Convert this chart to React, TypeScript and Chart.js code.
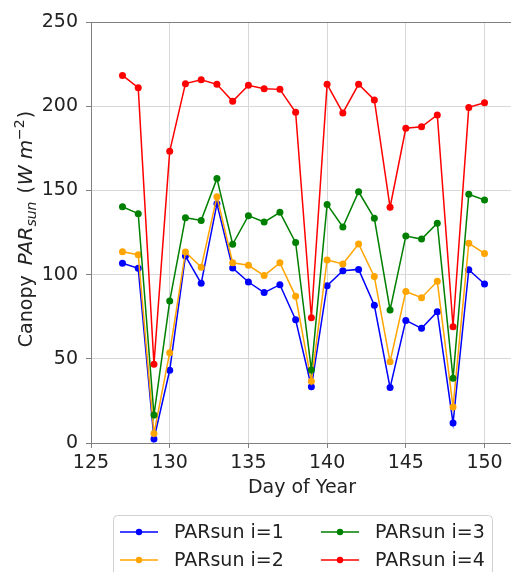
import React, { useEffect, useRef } from "react";
import { Chart, registerables } from "chart.js";

Chart.register(...registerables);

const DAYS = [127, 128, 129, 130, 131, 132, 133, 134, 135, 136, 137, 138, 139, 140, 141, 142, 143, 144, 145, 146, 147, 148, 149, 150];
const PAR_I1 = [106.7, 103.7, 2.4, 43.2, 111, 94.8, 142, 103.9, 95.6, 89.3, 94, 73.2, 33.4, 93.4, 102.3, 103.1, 81.8, 32.9, 72.8, 68.1, 78, 11.9, 102.9, 94.4];
const PAR_I2 = [113.6, 111.8, 5.7, 53.6, 113.4, 104.3, 146.3, 107, 105.5, 99.4, 107, 87.1, 36.6, 108.7, 106.3, 118.2, 98.8, 48.3, 89.9, 86.3, 96, 21.4, 118.6, 112.6];
const PAR_I3 = [140.3, 136.2, 16.6, 84.3, 133.8, 132.2, 157, 118, 135, 131.2, 137, 119, 43.3, 141.7, 128.3, 149.2, 133.4, 79, 122.9, 121.1, 130.5, 38.4, 147.7, 144.3];
const PAR_I4 = [218.3, 211, 46.7, 173.2, 213.4, 215.7, 213, 202.9, 212.4, 210.4, 210, 196.4, 74.4, 213, 196, 213, 203.7, 140, 186.9, 187.8, 194.8, 69, 199.3, 202];
const SERIES_LABELS = ["PARsun i=1", "PARsun i=2", "PARsun i=3", "PARsun i=4"];
const SERIES_COLORS = ["#0000ff", "#ffa500", "#008000", "#ff0000"];
const X_TICKS = [125, 130, 135, 140, 145, 150];
const Y_TICKS = [0, 50, 100, 150, 200, 250];
const X_TITLE = "Day of Year";

const FONT = "'DejaVu Sans', 'Liberation Sans', sans-serif";
const TEXT = "#222222";
const SPINE = "#808080";

const overlay = {
  id: "overlay",
  afterDraw(chart: any) {
    const ctx = chart.ctx as CanvasRenderingContext2D;
    const a = chart.chartArea;
    ctx.save();
    // top spine
    ctx.strokeStyle = SPINE;
    ctx.lineWidth = 1;
    ctx.beginPath();
    ctx.moveTo(a.left, a.top + 0.5);
    ctx.lineTo(a.right, a.top + 0.5);
    ctx.stroke();

    // x title
    ctx.fillStyle = TEXT;
    ctx.font = `19px ${FONT}`;
    ctx.textAlign = "center";
    ctx.textBaseline = "alphabetic";
    ctx.fillText(X_TITLE, 302, 493);

    // y title with sub/superscripts
    const runs = [
      { t: "Canopy ", it: false, s: 19, dy: 0, gap: 4 },
      { t: "PAR", it: true, s: 20, dy: 0, gap: 0 },
      { t: "sun", it: true, s: 14, dy: 4, gap: 8 },
      { t: "(", it: false, s: 19, dy: 0, gap: 1 },
      { t: "W", it: true, s: 20, dy: 0, gap: 6 },
      { t: "m", it: true, s: 20, dy: 0, gap: 0 },
      { t: "\u22122", it: false, s: 14, dy: -8, gap: 1 },
      { t: ")", it: false, s: 19, dy: 0, gap: 0 },
    ];
    let total = 0;
    const widths: number[] = [];
    for (const r of runs) {
      ctx.font = `${r.it ? "italic " : ""}${r.s}px ${FONT}`;
      const w = ctx.measureText(r.t).width + r.gap;
      widths.push(w);
      total += w;
    }
    ctx.translate(32, 229);
    ctx.rotate(-Math.PI / 2);
    ctx.textAlign = "left";
    let x = -total / 2;
    runs.forEach((r, i) => {
      ctx.font = `${r.it ? "italic " : ""}${r.s}px ${FONT}`;
      ctx.fillText(r.t, x, r.dy);
      x += widths[i];
    });
    ctx.setTransform(1, 0, 0, 1, 0, 0);

    // legend
    const bx = 113, by = 515, bw = 379, bh = 70, rr = 4;
    ctx.fillStyle = "#ffffff";
    ctx.strokeStyle = "#d0d0d0";
    ctx.lineWidth = 1;
    ctx.beginPath();
    ctx.moveTo(bx + rr + 0.5, by + 0.5);
    ctx.lineTo(bx + bw - rr + 0.5, by + 0.5);
    ctx.arcTo(bx + bw + 0.5, by + 0.5, bx + bw + 0.5, by + rr + 0.5, rr);
    ctx.lineTo(bx + bw + 0.5, by + bh);
    ctx.lineTo(bx + 0.5, by + bh);
    ctx.lineTo(bx + 0.5, by + rr + 0.5);
    ctx.arcTo(bx + 0.5, by + 0.5, bx + rr + 0.5, by + 0.5, rr);
    ctx.closePath();
    ctx.fill();
    ctx.stroke();
    const cols = [120, 321];
    const rows = [532, 560];
    SERIES_LABELS.forEach((lab, i) => {
      const cx = cols[Math.floor(i / 2)];
      const cy = rows[i % 2];
      ctx.strokeStyle = SERIES_COLORS[i];
      ctx.fillStyle = SERIES_COLORS[i];
      ctx.lineWidth = 1.5;
      ctx.beginPath();
      ctx.moveTo(cx, cy);
      ctx.lineTo(cx + 38, cy);
      ctx.stroke();
      ctx.beginPath();
      ctx.arc(cx + 19, cy, 3.2, 0, Math.PI * 2);
      ctx.fill();
      ctx.fillStyle = TEXT;
      ctx.font = `19px ${FONT}`;
      ctx.textAlign = "left";
      ctx.textBaseline = "middle";
      ctx.fillText(lab, cx + 54, cy + 1);
    });
    ctx.restore();
  },
};

export default function App() {
  const ref = useRef<HTMLCanvasElement | null>(null);
  useEffect(() => {
    document.body.style.margin = "0";
    document.body.style.overflow = "hidden";
    const series = [PAR_I1, PAR_I2, PAR_I3, PAR_I4];
    const chart = new Chart(ref.current as HTMLCanvasElement, {
      type: "line",
      data: {
        datasets: series.map((vals, i) => ({
          label: SERIES_LABELS[i],
          data: DAYS.map((d, j) => ({ x: d, y: vals[j] })),
          borderColor: SERIES_COLORS[i],
          backgroundColor: SERIES_COLORS[i],
          borderWidth: 1.5,
          pointRadius: 3.5,
          pointBorderWidth: 0,
          tension: 0,
          order: 4 - i,
        })),
      },
      options: {
        responsive: false,
        animation: false,
        layout: { padding: { top: 22, right: 60, left: 0, bottom: 0 } },
        plugins: { legend: { display: false }, tooltip: { enabled: false } },
        scales: {
          x: {
            type: "linear",
            min: 125,
            max: 152,
            afterBuildTicks: (s: any) => {
              s.ticks = X_TICKS.map((v) => ({ value: v }));
            },
            afterFit: (s: any) => {
              s.height = 129;
            },
            ticks: { color: TEXT, font: { family: FONT, size: 19 }, padding: 4, maxRotation: 0 },
            grid: { color: "#d8d8d8", lineWidth: 1, tickColor: SPINE, tickLength: 5, drawTicks: true },
            border: { display: true, color: SPINE, width: 1 },
          },
          y: {
            type: "linear",
            min: 0,
            max: 250,
            afterBuildTicks: (s: any) => {
              s.ticks = Y_TICKS.map((v) => ({ value: v }));
            },
            afterFit: (s: any) => {
              s.width = 91;
            },
            ticks: { color: TEXT, font: { family: FONT, size: 19 }, padding: 8 },
            grid: { color: "#d8d8d8", lineWidth: 1, tickColor: SPINE, tickLength: 5, drawTicks: true },
            border: { display: true, color: SPINE, width: 1 },
          },
        },
      },
      plugins: [overlay],
    });
    return () => chart.destroy();
  }, []);
  return (
    <div style={{ position: "absolute", left: 0, top: 0, width: 511, height: 572, overflow: "hidden", background: "#fff" }}>
      <canvas ref={ref} width={576} height={572} style={{ display: "block", width: 576, height: 572 }} />
    </div>
  );
}
